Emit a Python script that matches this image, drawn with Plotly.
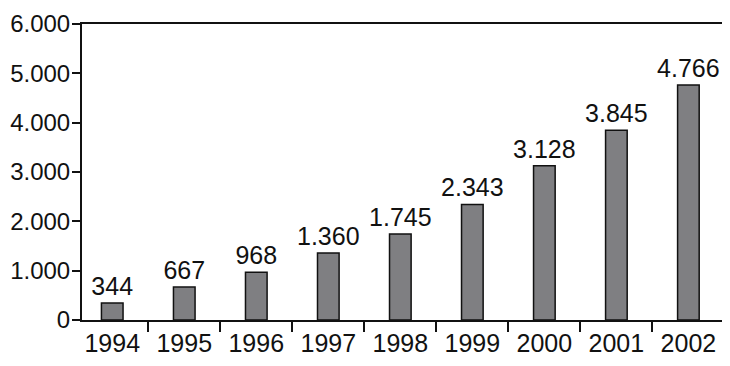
import plotly.graph_objects as go

years = ["1994", "1995", "1996", "1997", "1998", "1999", "2000", "2001", "2002"]
values = [344, 667, 968, 1360, 1745, 2343, 3128, 3845, 4766]
y_ticks = [0, 1000, 2000, 3000, 4000, 5000, 6000]

FONT = "Liberation Sans, Arial, sans-serif"

fig = go.Figure(go.Bar(
    x=years, y=values,
    width=0.3,
    marker=dict(color="#7f7f82", line=dict(color="#111111", width=1.5)),
    texttemplate="%{y:,d}", textposition="outside",
    textfont=dict(size=25, color="#111111", family=FONT),
    constraintext="none",
    cliponaxis=False,
))

fig.update_layout(
    width=730, height=366,
    margin=dict(l=74, r=10, t=16, b=54, autoexpand=False),
    paper_bgcolor="white", plot_bgcolor="white",
    separators=",.",
    showlegend=False,
    font=dict(family=FONT, color="#111111"),
)
fig.update_xaxes(
    type="category", tickson="boundaries", ticks="outside", ticklen=10,
    range=[-0.42, 8.55],
    tickwidth=1.5, tickcolor="#111111",
    showline=True, linecolor="#111111", linewidth=2, mirror=True,
    tickfont=dict(size=25, family=FONT, color="#111111"),
    showgrid=False, automargin=False,
)
fig.update_yaxes(
    range=[0, 6000], tickvals=y_ticks, tickformat=",d",
    ticks="outside", ticklen=8, tickwidth=1.5, tickcolor="#111111",
    ticklabelstandoff=-3,
    showline=True, linecolor="#111111", linewidth=2, mirror=True,
    tickfont=dict(size=24, family=FONT, color="#111111"),
    showgrid=False, zeroline=False, automargin=False,
)

fig.write_html("out.html")
